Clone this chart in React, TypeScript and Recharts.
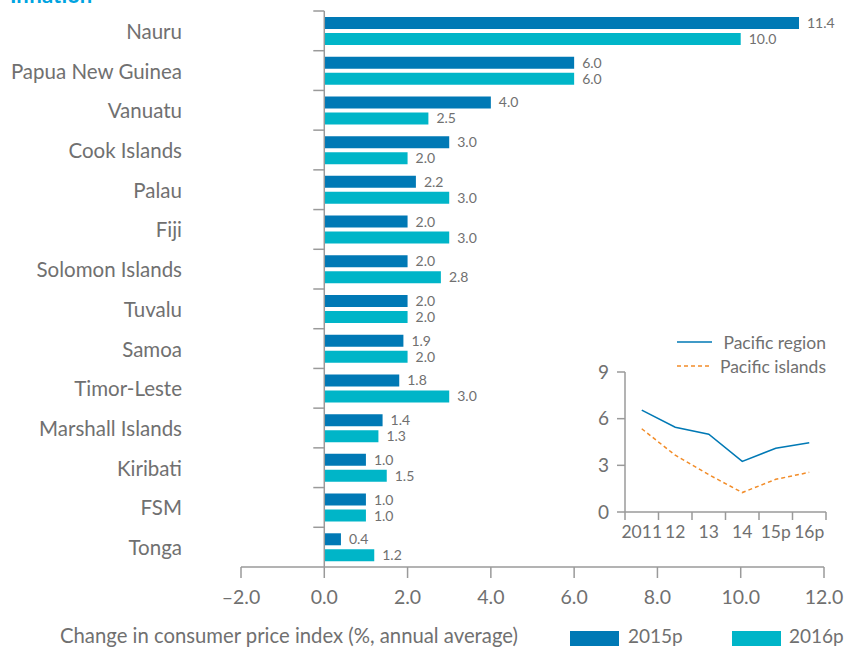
import React from "react";
import {
  Bar,
  BarChart,
  XAxis,
  YAxis,
  LabelList,
  ReferenceLine,
  LineChart,
  Line,
} from "recharts";

// main chart data
const countries = [
  "Nauru",
  "Papua New Guinea",
  "Vanuatu",
  "Cook Islands",
  "Palau",
  "Fiji",
  "Solomon Islands",
  "Tuvalu",
  "Samoa",
  "Timor-Leste",
  "Marshall Islands",
  "Kiribati",
  "FSM",
  "Tonga",
];
const values2015 = [11.4, 6.0, 4.0, 3.0, 2.2, 2.0, 2.0, 2.0, 1.9, 1.8, 1.4, 1.0, 1.0, 0.4];
const values2016 = [10.0, 6.0, 2.5, 2.0, 3.0, 3.0, 2.8, 2.0, 2.0, 3.0, 1.3, 1.5, 1.0, 1.2];
const xTicks = [-2, 0, 2, 4, 6, 8, 10, 12];

// inset data
const years = ["2011", "12", "13", "14", "15p", "16p"];
const pacificRegion = [6.55, 5.45, 5.0, 3.25, 4.1, 4.45];
const pacificIslands = [5.35, 3.65, 2.4, 1.25, 2.1, 2.55];
const insetTicks = [0, 3, 6, 9];

const barData = countries.map((c, i) => ({ country: c, y2015: values2015[i], y2016: values2016[i] }));
const lineData = years.map((y, i) => ({ year: y, region: pacificRegion[i], islands: pacificIslands[i] }));

const FONT = "Lato, 'Noto Sans', sans-serif";
const GRAY = "#707070";
const AXIS = "#9a9a9a";
const C2015 = "#0079b5";
const C2016 = "#00b5c8";
const ORANGE = "#f28c28";

const W = 846;
const H = 650;
const PLOT_LEFT = 241;
const PLOT_RIGHT = 824;
const PLOT_TOP = 11;
const PLOT_BOTTOM = 567;
const X_MIN = -2;
const X_MAX = 12;

const zeroX = PLOT_LEFT + ((0 - X_MIN) / (X_MAX - X_MIN)) * (PLOT_RIGHT - PLOT_LEFT);
const bandH = (PLOT_BOTTOM - PLOT_TOP) / countries.length;

const fmtX = (v: number) => (v < 0 ? `–${Math.abs(v).toFixed(1)}` : v.toFixed(1));

function CountryTick(props: any) {
  const { x, y, payload } = props;
  const top = y - bandH / 2;
  return (
    <g>
      <line x1={zeroX - 11} x2={zeroX} y1={top} y2={top} stroke={AXIS} strokeWidth={1.5} />
      <text x={x - 51} y={y} textAnchor="end" dominantBaseline="central" fontSize={20.5} fill={GRAY} fontFamily={FONT}>
        {payload.value}
      </text>
    </g>
  );
}

function YearTick(props: any) {
  const { x, y, payload, index } = props;
  const bw = (826 - 625) / years.length;
  return (
    <g>
      <line x1={x - bw / 2} x2={x - bw / 2} y1={y - 8} y2={y} stroke={AXIS} strokeWidth={1.5} />
      {index === years.length - 1 && (
        <line x1={x + bw / 2} x2={x + bw / 2} y1={y - 8} y2={y} stroke={AXIS} strokeWidth={1.5} />
      )}
      <text x={x} y={y + 11} textAnchor="middle" dominantBaseline="central" fontSize={17.5} fill={GRAY} fontFamily={FONT}>
        {payload.value}
      </text>
    </g>
  );
}

function MainLegend() {
  return (
    <div style={{ position: "absolute", left: 0, top: 620, width: W, height: 30, fontFamily: FONT, color: GRAY, fontSize: 20.3 }}>
      <span style={{ position: "absolute", left: 60, top: 3 }}>Change in consumer price index (%, annual average)</span>
      <span style={{ position: "absolute", left: 570, top: 11, width: 49, height: 15, background: C2015 }} />
      <span style={{ position: "absolute", left: 628, top: 4, fontSize: 19 }}>2015p</span>
      <span style={{ position: "absolute", left: 732, top: 11, width: 49, height: 15, background: C2016 }} />
      <span style={{ position: "absolute", left: 789, top: 4, fontSize: 19 }}>2016p</span>
    </div>
  );
}

function InsetLegend() {
  return (
    <svg width={180} height={50} style={{ position: "absolute", left: 677, top: 332, overflow: "visible" }}>
      <line x1={0} x2={35} y1={10} y2={10} stroke={C2015} strokeWidth={1.5} />
      <text x={149} y={10} textAnchor="end" dominantBaseline="central" fontSize={17.5} fill={GRAY} fontFamily={FONT}>
        Pacific region
      </text>
      <line x1={0} x2={35} y1={34} y2={34} stroke={ORANGE} strokeWidth={1.5} strokeDasharray="4 3" />
      <text x={149} y={34} textAnchor="end" dominantBaseline="central" fontSize={17.5} fill={GRAY} fontFamily={FONT}>
        Pacific islands
      </text>
    </svg>
  );
}

export default function App() {
  return (
    <div style={{ position: "absolute", left: 0, top: 0, width: W, height: H, background: "#fff", fontFamily: FONT }}>
      <svg width={200} height={10} style={{ position: "absolute", left: 0, top: 0 }}>
        <text x={10} y={3} fontSize={22} fontWeight="bold" fill="#00a3e0" fontFamily={FONT}>
          Inflation
        </text>
      </svg>
      <BarChart
        width={W}
        height={H}
        data={barData}
        layout="vertical"
        margin={{ top: PLOT_TOP, right: W - PLOT_RIGHT, left: 0, bottom: H - PLOT_BOTTOM - 50 }}
        barSize={12}
        barGap={4}
      >
        <XAxis
          type="number"
          domain={[X_MIN, X_MAX]}
          ticks={xTicks}
          tickFormatter={fmtX}
          height={50}
          tickSize={11}
          tickMargin={12}
          stroke={AXIS}
          strokeWidth={1.5}
          tick={{ fontSize: 19.5, fill: GRAY, fontFamily: FONT }}
          allowDataOverflow
        />
        <YAxis
          type="category"
          dataKey="country"
          width={PLOT_LEFT}
          axisLine={false}
          tickLine={false}
          tick={<CountryTick />}
          interval={0}
        />
        <ReferenceLine x={0} stroke={AXIS} strokeWidth={1.5} />
        <Bar dataKey="y2015" fill={C2015} isAnimationActive={false}>
          <LabelList
            dataKey="y2015"
            position="right"
            offset={8}
            formatter={(v: any) => Number(v).toFixed(1)}
            style={{ fontSize: 14, fill: GRAY, fontFamily: FONT }}
          />
        </Bar>
        <Bar dataKey="y2016" fill={C2016} isAnimationActive={false}>
          <LabelList
            dataKey="y2016"
            position="right"
            offset={8}
            formatter={(v: any) => Number(v).toFixed(1)}
            style={{ fontSize: 14, fill: GRAY, fontFamily: FONT }}
          />
        </Bar>
      </BarChart>
      <MainLegend />

      <div style={{ position: "absolute", left: 560, top: 320, width: 286, height: 230 }}>
        <LineChart
          width={286}
          height={230}
          data={lineData}
          margin={{ top: 52, right: 20, left: 0, bottom: 8 }}
        >
          <XAxis
            dataKey="year"
            scale="band"
            stroke={AXIS}
            strokeWidth={1.5}
            tickLine={false}
            tick={<YearTick />}
            height={30}
            interval={0}
          />
          <YAxis
            domain={[0, 9]}
            ticks={insetTicks}
            width={65}
            stroke={AXIS}
            strokeWidth={1.5}
            tickSize={8}
            tickMargin={8}
            tick={{ fontSize: 19, fill: GRAY, fontFamily: FONT }}
          />
          <Line dataKey="region" stroke={C2015} strokeWidth={1.5} dot={false} isAnimationActive={false} />
          <Line
            dataKey="islands"
            stroke={ORANGE}
            strokeWidth={1.5}
            strokeDasharray="4 3"
            dot={false}
            isAnimationActive={false}
          />
        </LineChart>
      </div>
      <InsetLegend />
    </div>
  );
}
